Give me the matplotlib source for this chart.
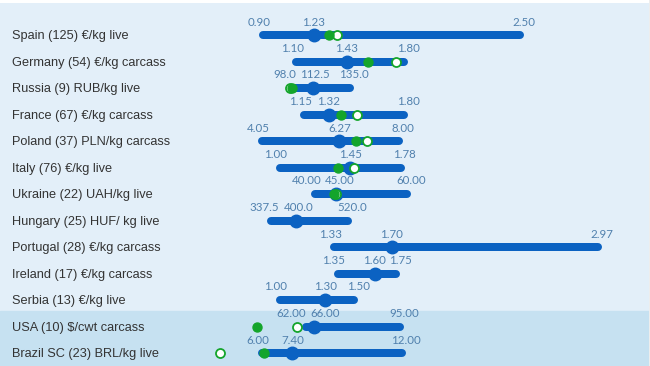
import numpy as np
import matplotlib
matplotlib.use("Agg")
import matplotlib.pyplot as plt
from matplotlib.lines import Line2D
from matplotlib.transforms import blended_transform_factory, ScaledTranslation

# rows, top to bottom
labels = ["Spain (125) €/kg live", "Germany (54) €/kg carcass", "Russia (9) RUB/kg live",
          "France (67) €/kg carcass", "Poland (37) PLN/kg carcass", "Italy (76) €/kg live",
          "Ukraine (22) UAH/kg live", "Hungary (25) HUF/ kg live", "Portugal (28) €/kg carcass",
          "Ireland (17) €/kg carcass", "Serbia (13) €/kg live", "USA (10) $/cwt carcass",
          "Brazil SC (23) BRL/kg live"]
mins = [0.90, 1.10, 98.0, 1.15, 4.05, 1.00, 40.00, 337.5, 1.33, 1.35, 1.00, 62.00, 6.00]
medians = [1.23, 1.43, 112.5, 1.32, 6.27, 1.45, 45.00, 400.0, 1.70, 1.60, 1.30, 66.00, 7.40]
maxs = [2.50, 1.80, 135.0, 1.80, 8.00, 1.78, 60.00, 520.0, 2.97, 1.75, 1.50, 95.00, 12.00]
decimals = [2, 2, 1, 2, 2, 2, 2, 1, 2, 2, 2, 2, 2]
# conversion of each local unit to the common (EUR) axis
to_eur = [1, 1, 0.0109, 1, 0.221, 1, 0.0303, 0.00281, 1, 1, 1, 0.0187, 0.1488]
green = [1.325, 1.560, 100.6, 1.392, 6.71, 1.375, 44.6, np.nan, np.nan, np.nan, np.nan, 47.6, 6.25]
white = [1.373, 1.729, 99.9, 1.492, 7.02, 1.476, 45.1, np.nan, np.nan, np.nan, np.nan, 60.4, 4.48]

BLUE = "#0b62c2"
GREEN = "#14a52b"
TXT = "#5080ad"

W, H = 650, 366
fig = plt.figure(figsize=(W / 100, H / 100), dpi=100)
fig.patch.set_facecolor("white")
ax = fig.add_axes([0, 0, 649 / W, 363 / H])
ax.set_facecolor("#e3eff9")
n = len(labels)
ax.set_xlim(-110 / 166, (W - 110) / 166)
ax.set_ylim((H - 35) / 26.5, -32 / 26.5)
ax.axis("off")
ax.add_patch(plt.Rectangle((0, 0), 1, 1, transform=ax.transAxes, color="#e3eff9", zorder=0))
ax.axhspan(10.4, 20, color="#c6e1f1", zorder=0.5)
fig.add_artist(Line2D([649.5 / W] * 2, [0, 1], color="#a8a8a8", lw=1))

fig.canvas.draw()
px_per_unit = ax.transData.transform((1, 0))[0] - ax.transData.transform((0, 0))[0]
bar_px = 8
half = (bar_px / 2) / px_per_unit
lw = bar_px * 0.72

ytr = blended_transform_factory(fig.transFigure, ax.transData)
renderer = fig.canvas.get_renderer()
lift = ax.transData + ScaledTranslation(0, 0.13, fig.dpi_scale_trans)

for i in range(n):
    r = to_eur[i]
    lo, md, hi = mins[i] * r, medians[i] * r, maxs[i] * r
    ax.text(12 / W, i + 0.04, labels[i], transform=ytr, ha="left", va="center",
            fontsize=9.2, family="Liberation Sans", color="#333333")
    ax.plot([lo + half, hi - half], [i, i], color=BLUE, lw=lw, solid_capstyle="round", zorder=2)
    ax.plot(md, i, "o", color=BLUE, ms=12.5 * 0.72, zorder=3)
    if not np.isnan(white[i]):
        ax.plot(white[i] * r, i, "o", mfc="white", mec=GREEN, mew=1.3, ms=9 * 0.72, zorder=4)
    if not np.isnan(green[i]):
        ax.plot(green[i] * r, i, "o", color=GREEN, ms=9 * 0.72, zorder=5)

    # value labels, pushed apart when they would overlap
    vals = [mins[i], medians[i], maxs[i]]
    strs = [f"{v:.{decimals[i]}f}" for v in vals]
    xs = [v * r * px_per_unit for v in vals]
    widths = []
    for s in strs:
        t = ax.text(0, 0, s, fontsize=8.3, family="Lato")
        widths.append(t.get_window_extent(renderer).width)
        t.remove()
    for a, b in [(0, 1), (1, 2), (0, 1)]:
        need = (widths[a] + widths[b]) / 2 + 4
        gap = xs[b] - xs[a]
        if gap < need:
            d = (need - gap) / 2
            xs[a] -= d
            xs[b] += d
    for s, x in zip(strs, xs):
        ax.text(x / px_per_unit, i, s, fontsize=8.3, family="Lato", color=TXT,
                ha="center", va="center", transform=lift)

fig.savefig("out.png", dpi=100, facecolor=fig.get_facecolor())
